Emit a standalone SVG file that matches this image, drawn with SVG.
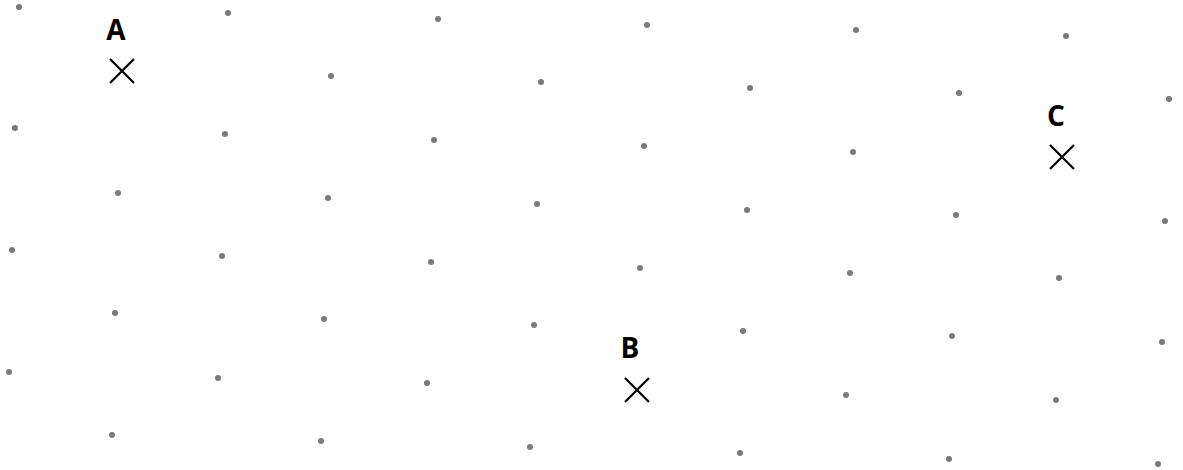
<svg xmlns="http://www.w3.org/2000/svg" width="1183" height="470" viewBox="0 0 1183 470">
<style>
.d{fill:#7a7a7a}
.x{stroke:#000;stroke-width:2.2;stroke-linecap:butt;fill:none}
.l{font-family:"Open Sans","Liberation Sans",sans-serif;font-weight:700;font-size:28px;fill:#000;text-anchor:middle}
</style>
<rect width="1183" height="470" fill="#fff"/>
<g id="grid">
<circle class="d" cx="19" cy="7" r="3"/><circle class="d" cx="228" cy="13" r="3"/><circle class="d" cx="438" cy="19" r="3"/><circle class="d" cx="647" cy="25" r="3"/><circle class="d" cx="856" cy="30" r="3"/><circle class="d" cx="1066" cy="36" r="3"/>
<circle class="d" cx="331" cy="76" r="3"/><circle class="d" cx="541" cy="82" r="3"/><circle class="d" cx="750" cy="88" r="3"/><circle class="d" cx="959" cy="93" r="3"/><circle class="d" cx="1169" cy="99" r="3"/>
<circle class="d" cx="15" cy="128" r="3"/><circle class="d" cx="225" cy="134" r="3"/><circle class="d" cx="434" cy="140" r="3"/><circle class="d" cx="644" cy="146" r="3"/><circle class="d" cx="853" cy="152" r="3"/>
<circle class="d" cx="118" cy="193" r="3"/><circle class="d" cx="328" cy="198" r="3"/><circle class="d" cx="537" cy="204" r="3"/><circle class="d" cx="747" cy="210" r="3"/><circle class="d" cx="956" cy="215" r="3"/><circle class="d" cx="1165" cy="221" r="3"/>
<circle class="d" cx="12" cy="250" r="3"/><circle class="d" cx="222" cy="256" r="3"/><circle class="d" cx="431" cy="262" r="3"/><circle class="d" cx="640" cy="268" r="3"/><circle class="d" cx="850" cy="273" r="3"/><circle class="d" cx="1059" cy="278" r="3"/>
<circle class="d" cx="115" cy="313" r="3"/><circle class="d" cx="324" cy="319" r="3"/><circle class="d" cx="534" cy="325" r="3"/><circle class="d" cx="743" cy="331" r="3"/><circle class="d" cx="952" cy="336" r="3"/><circle class="d" cx="1162" cy="342" r="3"/>
<circle class="d" cx="9" cy="372" r="3"/><circle class="d" cx="218" cy="378" r="3"/><circle class="d" cx="427" cy="383" r="3"/><circle class="d" cx="846" cy="395" r="3"/><circle class="d" cx="1056" cy="400" r="3"/>
<circle class="d" cx="112" cy="435" r="3"/><circle class="d" cx="321" cy="441" r="3"/><circle class="d" cx="530" cy="447" r="3"/><circle class="d" cx="740" cy="453" r="3"/><circle class="d" cx="949" cy="459" r="3"/><circle class="d" cx="1158" cy="464" r="3"/>
</g>
<g id="A">
<path class="x" d="M110 59 L134 83 M134 59 L110 83"/>
<text class="l" x="116" y="40">A</text>
</g>
<g id="B">
<path class="x" d="M625 378 L649 402 M649 378 L625 402"/>
<text class="l" x="630" y="358">B</text>
</g>
<g id="C">
<path class="x" d="M1050 145 L1074 169 M1074 145 L1050 169"/>
<text class="l" x="1056" y="126">C</text>
</g>
<g id="connectors"></g>
</svg>
